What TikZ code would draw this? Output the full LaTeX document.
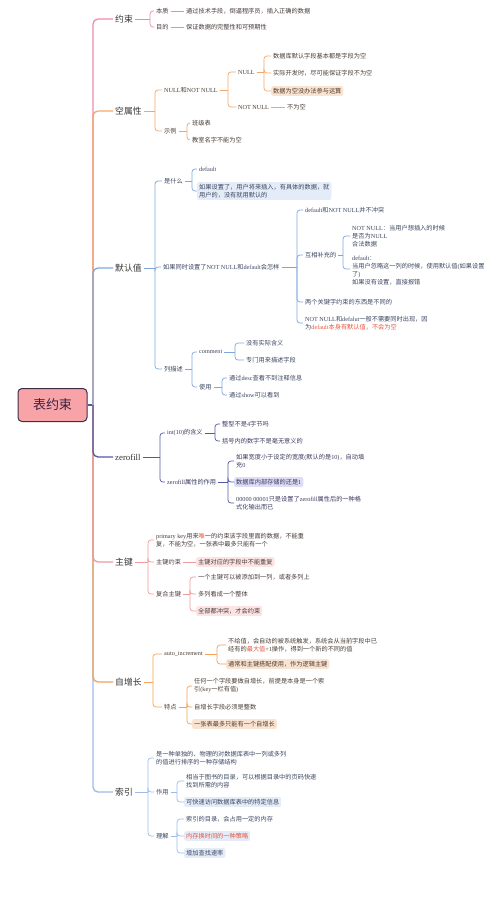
\documentclass[tikz,border=0pt]{standalone}
\usepackage{fontspec}
\setmainfont{Noto Sans CJK SC}
\newfontfamily\lat{Liberation Serif}
\XeTeXinterchartokenstate=1
\newXeTeXintercharclass\CJKcls
\newcount\mycnt
\mycnt="3000 \loop\ifnum\mycnt<"3040 \XeTeXcharclass\mycnt=\CJKcls\relax\advance\mycnt by 1 \repeat
\mycnt="4E00 \loop\ifnum\mycnt<"A000 \XeTeXcharclass\mycnt=\CJKcls\relax\advance\mycnt by 1 \repeat
\mycnt="FF00 \loop\ifnum\mycnt<"FFF0 \XeTeXcharclass\mycnt=\CJKcls\relax\advance\mycnt by 1 \repeat
\XeTeXinterchartoks 4095 0 = {\lat}
\XeTeXinterchartoks \CJKcls 0 = {\lat}
\XeTeXinterchartoks 0 \CJKcls = {\rmfamily}
\XeTeXinterchartoks 4095 \CJKcls = {\rmfamily}

\definecolor{K1}{HTML}{EE8AAE}
\definecolor{K2}{HTML}{F2A66A}
\definecolor{K3}{HTML}{7FA6DC}
\definecolor{K4}{HTML}{5158A8}
\definecolor{K5}{HTML}{EE9A9A}
\definecolor{K6}{HTML}{F2A258}
\definecolor{K7}{HTML}{9DBBEA}
\definecolor{T1}{HTML}{4A3A3A}
\definecolor{T2}{HTML}{4A3D33}
\definecolor{T3}{HTML}{3A4660}
\definecolor{T4}{HTML}{3A3A5E}
\definecolor{LB}{HTML}{333333}
\definecolor{HP}{HTML}{FBE3D2}
\definecolor{HB}{HTML}{E4ECF8}
\definecolor{HL}{HTML}{DDDDF5}
\definecolor{HK}{HTML}{FCE4E4}
\definecolor{RD}{HTML}{E8553E}
\definecolor{RF}{HTML}{F8A3A8}
\definecolor{RB}{HTML}{3D2D45}
\definecolor{RT}{HTML}{3B2040}

\tikzset{
  lf/.style={anchor=west, xshift=-2pt, inner xsep=2pt, inner ysep=1.2pt,
    font=\fontsize{6.2}{8}\selectfont, align=left},
  l1/.style={lf, text=T1}, l2/.style={lf, text=T2}, l3/.style={lf, text=T3},
  l4/.style={lf, text=T4}, l5/.style={lf, text=T1}, l6/.style={lf, text=T2},
  l7/.style={lf, text=T3},
  hl/.style={fill=#1, rounded corners=2pt, inner ysep=2pt},
  brn/.style={anchor=west, inner xsep=2pt, font=\fontsize{8.8}{10}\selectfont, text=LB},
  rootbox/.style={draw=RB, fill=RF, line width=1pt, rounded corners=4pt,
    minimum width=69pt, minimum height=33pt, font=\fontsize{13}{15}\selectfont, text=RT},
  k1/.style={draw=K1, line width=0.7pt}, k2/.style={draw=K2, line width=0.7pt},
  k3/.style={draw=K3, line width=0.7pt}, k4/.style={draw=K4, line width=0.7pt},
  k5/.style={draw=K5, line width=0.7pt}, k6/.style={draw=K6, line width=0.7pt},
  k7/.style={draw=K7, line width=0.7pt},
}
\newcommand\mybr[4]{%
  \coordinate (bxc) at (#3,0);
  \draw[#1] (#2.east) -- (#2.east -| bxc);
  \foreach \ch in {#4}{\draw[#1, rounded corners=3pt] (#2.east -| bxc) |- (\ch.west);}
}

\begin{document}
\begin{tikzpicture}[x=1pt,y=-1pt]
\useasboundingbox (0,0) rectangle (500,903);

% root
\node[rootbox] (root) at (52.5,405) {表约束};

% 约束
\node[brn] (A) at (113,19) {约束};
\node[l1] (A1) at (156,11) {本质};
\node[l1] (A2) at (156,27) {目的};
\node[l1] (A1a) at (186,11) {通过技术手段，倒逼程序员，插入正确的数据};
\node[l1] (A2a) at (186,27) {保证数据的完整性和可预期性};

% 空属性
\node[brn] (B) at (113,111) {空属性};
\node[l2] (B1) at (164,90) {NULL和NOT NULL};
\node[l2] (B2) at (164,131) {示例};
\node[l2] (B11) at (238,72) {NULL};
\node[l2] (B12) at (238,107) {NOT NULL};
\node[l2] (B111) at (273,56) {数据库默认字段基本都是字段为空};
\node[l2] (B112) at (273,73) {实际开发时，尽可能保证字段不为空};
\node[l2,hl=HP] (B113) at (273,91) {数据为空没办法参与运算};
\node[l2] (B121) at (287,107) {不为空};
\node[l2] (B21) at (192,123) {班级表};
\node[l2] (B22) at (192,140) {教室名字不能为空};

% 默认值
\node[brn] (C) at (113,268) {默认值};
\node[l3] (C1) at (164,181) {是什么};
\node[l3] (C2) at (163,267) {如果同时设置了NOT NULL和default会怎样};
\node[l3] (C3) at (164,369) {列描述};
\node[l3] (C11) at (199,169) {default};
\node[l3,hl=HB] (C12) at (199,191) {如果设置了，用户将来插入，有具体的数据，就\\用户的，没有就用默认的};
\node[l3] (C21) at (305,210) {default和NOT NULL并不冲突};
\node[l3] (C22) at (305,255) {互相补充的};
\node[l3] (C23) at (305,302) {两个关键字约束的东西是不同的};
\node[l3] (C24) at (305,323) {NOT NULL和defalut一般不需要同时出现，因\\为\textcolor{RD}{default本身有默认值，不会为空}};
\node[l3] (C221) at (352,236) {NOT NULL：当用户想插入的时候\\是否为NULL\\合法数据};
\node[l3] (C222) at (352,269) {\mbox{}\\default：\\当用户忽略这一列的时候，使用默认值(如果设置\\了)\\如果没有设置，直接报错};
\node[l3] (C31) at (199,352) {comment};
\node[l3] (C32) at (199,387) {使用};
\node[l3] (C311) at (246,343) {没有实际含义};
\node[l3] (C312) at (246,360) {专门用来描述字段};
\node[l3] (C321) at (229,378) {通过desc查看不到注释信息};
\node[l3] (C322) at (229,395) {通过show可以看到};

% zerofill
\node[brn] (D) at (113,457) {zerofill};
\node[l4] (D1) at (167,433) {int(10)的含义};
\node[l4] (D2) at (167,482) {zerofill属性的作用};
\node[l4] (D11) at (222,424) {整型不是4字节吗};
\node[l4] (D12) at (222,441) {括号内的数字不是毫无意义的};
\node[l4] (D21) at (236,461) {如果宽度小于设定的宽度(默认的是10)，自动填\\充0};
\node[l4,hl=HL] (D22) at (236,482) {数据库内部存储的还是1};
\node[l4] (D23) at (236,503) {00000 00001只是设置了zerofill属性后的一种格\\式化输出而已};

% 主键
\node[brn] (E) at (113,562) {主键};
\node[l5] (E1) at (156,540) {primary key用来\textcolor{RD}{唯}一的约束该字段里面的数据，不能重\\复，不能为空，一张表中最多只能有一个};
\node[l5] (E2) at (156,562) {主键约束};
\node[l5] (E3) at (156,594) {复合主键};
\node[l5,hl=HK] (E21) at (198,562) {主键对应的字段中不能重复};
\node[l5] (E31) at (198,577) {一个主键可以被添加到一列，或者多列上};
\node[l5] (E32) at (198,594) {多列看成一个整体};
\node[l5,hl=HK] (E33) at (198,611) {全部都冲突，才会约束};

% 自增长
\node[brn] (F) at (113,682) {自增长};
\node[l6] (F1) at (164,654) {auto\_increment};
\node[l6] (F2) at (164,707) {特点};
\node[l6] (F11) at (228,645) {不给值，会自动的被系统触发，系统会从当前字段中已\\经有的\textcolor{RD}{最大值}+1操作，得到一个新的不同的值};
\node[l6,hl=HP] (F12) at (228,664) {通常和主键搭配使用，作为逻辑主键};
\node[l6] (F21) at (194,686) {任何一个字段要做自增长，前提是本身是一个索\\引(key一栏有值)};
\node[l6] (F22) at (194,707) {自增长字段必须是整数};
\node[l6,hl=HP] (F23) at (194,724) {一张表最多只能有一个自增长};

% 索引
\node[brn] (G) at (113,792) {索引};
\node[l7] (G1) at (156,758) {是一种单独的、物理的对数据库表中一列或多列\\的值进行排序的一种存储结构};
\node[l7] (G2) at (156,792) {作用};
\node[l7] (G3) at (156,836) {理解};
\node[l7] (G21) at (186,781) {相当于图书的目录，可以根据目录中的页码快速\\找到所需的内容};
\node[l7,hl=HB] (G22) at (186,802) {可快速访问数据库表中的特定信息};
\node[l7] (G31) at (186,819) {索引的目录，会占用一定的内存};
\node[l7,hl=HB,text=RD] (G32) at (186,836) {内存换时间的一种策略};
\node[l7,hl=HB] (G33) at (186,853) {增加查找速率};

% level-1 connectors (farthest first)
\coordinate (T) at (93,405);
\draw[draw=K4, line width=1.3pt] (root.east) -- (T);
\draw[draw=K1, line width=1.3pt, rounded corners=5pt] (T) |- (A.west);
\draw[draw=K2, line width=1.3pt, rounded corners=5pt] (T) |- (B.west);
\draw[draw=K3, line width=1.3pt, rounded corners=5pt] (T) |- (C.west);
\draw[draw=K7, line width=1.3pt, rounded corners=5pt] (T) |- (G.west);
\draw[draw=K6, line width=1.3pt, rounded corners=5pt] (T) |- (F.west);
\draw[draw=K5, line width=1.3pt, rounded corners=5pt] (T) |- (E.west);
\draw[draw=K4, line width=1.3pt, rounded corners=5pt] (T) |- (D.west);

% 约束
\mybr{k1}{A}{150}{A1,A2}
\draw[k1] (A1.east) -- (A1a.west);
\draw[k1] (A2.east) -- (A2a.west);
% 空属性
\mybr{k2}{B}{155}{B1,B2}
\mybr{k2}{B1}{228}{B11,B12}
\mybr{k2}{B11}{264}{B111,B112,B113}
\draw[k2] (B12.east) -- (B121.west);
\mybr{k2}{B2}{187}{B21,B22}
% 默认值
\mybr{k3}{C}{155}{C1,C2,C3}
\mybr{k3}{C1}{192}{C11,C12}
\mybr{k3}{C2}{297}{C21,C22,C23,C24}
\mybr{k3}{C22}{343}{C221,C222}
\mybr{k3}{C3}{192}{C31,C32}
\mybr{k3}{C31}{235}{C311,C312}
\mybr{k3}{C32}{222}{C321,C322}
% zerofill
\mybr{k4}{D}{160}{D1,D2}
\mybr{k4}{D1}{215}{D11,D12}
\mybr{k4}{D2}{228}{D21,D22,D23}
% 主键
\mybr{k5}{E}{148}{E1,E2,E3}
\draw[k5] (E2.east) -- (E21.west);
\mybr{k5}{E3}{190}{E31,E32,E33}
% 自增长
\mybr{k6}{F}{153}{F1,F2}
\mybr{k6}{F1}{217}{F11,F12}
\mybr{k6}{F2}{187}{F21,F22,F23}
% 索引
\mybr{k7}{G}{148}{G1,G2,G3}
\mybr{k7}{G2}{177}{G21,G22}
\mybr{k7}{G3}{177}{G31,G32,G33}
\end{tikzpicture}
\end{document}
